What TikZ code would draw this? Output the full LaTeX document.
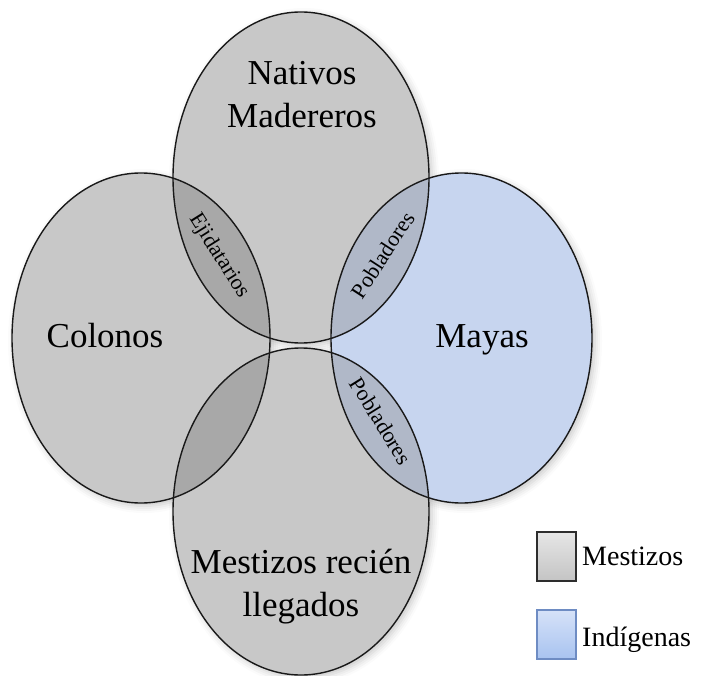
\documentclass[tikz,border=0pt]{standalone}
\usepackage{fontspec}
\setmainfont{Liberation Serif}
\usetikzlibrary{shadows.blur}
\definecolor{mgray}{RGB}{200,200,200}
\definecolor{movl}{RGB}{168,168,168}
\definecolor{mblue}{RGB}{199,213,239}
\definecolor{movb}{RGB}{176,184,200}
\definecolor{lnc}{RGB}{25,25,25}
\definecolor{lgtop}{RGB}{230,230,230}
\definecolor{lgbot}{RGB}{196,196,196}
\definecolor{lgbord}{RGB}{45,45,45}
\definecolor{lbtop}{RGB}{214,226,248}
\definecolor{lbbot}{RGB}{168,195,240}
\definecolor{lbbord}{RGB}{110,140,195}
\begin{document}
\begin{tikzpicture}[x=1pt,y=-1pt,
  outl/.style={draw=lnc,line width=1.4pt},
  shad/.style={blur shadow={shadow xshift=3pt,shadow yshift=-3pt,shadow blur radius=7pt,shadow opacity=22}},
  big/.style={font=\fontsize{35}{43}\selectfont,align=center,inner sep=0pt},
  small/.style={font=\fontsize{22}{24}\selectfont,inner sep=0pt},
  leg/.style={font=\fontsize{28}{30}\selectfont,inner sep=0pt,anchor=base west},
  legbox/.style={minimum width=39pt,minimum height=49pt,inner sep=0pt,line width=1.4pt}]
\useasboundingbox (0,0) rectangle (703,676);
\def\ellT{(301,177.5) ellipse [x radius=128, y radius=165.5]}
\def\ellB{(301,511.5) ellipse [x radius=128, y radius=163.5]}
\def\ellL{(141,338) ellipse [x radius=129, y radius=165]}
\def\ellR{(461.5,338) ellipse [x radius=130.5, y radius=165]}
% shadows
\path[shad] \ellT;
\path[shad] \ellB;
\path[shad] \ellL;
\path[shad] \ellR;
% base fills
\fill[mgray] \ellT;
\fill[mgray] \ellB;
\fill[mgray] \ellL;
\fill[mblue] \ellR;
% overlaps
\begin{scope}\clip \ellT; \fill[movl] \ellL; \end{scope}
\begin{scope}\clip \ellB; \fill[movl] \ellL; \end{scope}
\begin{scope}\clip \ellT; \fill[movb] \ellR; \end{scope}
\begin{scope}\clip \ellB; \fill[movb] \ellR; \end{scope}
% outlines
\draw[outl] \ellT;
\draw[outl] \ellB;
\draw[outl] \ellL;
\draw[outl] \ellR;
% labels
\node[big] (nat) at (302,95) {Nativos\\Madereros};
\node[big,anchor=base] (col) at (105,347) {Colonos};
\node[big,anchor=base] (may) at (482,347) {Mayas};
\node[big] (mes) at (301,587) {Mestizos recién\\llegados};
\node[small,rotate=-58] (eji) at (219,256) {Ejidatarios};
\node[small,rotate=57] (pob1) at (383,255) {Pobladores};
\node[small,rotate=-58] (pob2) at (381,421) {Pobladores};
% legend
\node[legbox,draw=lgbord,top color=lgtop,bottom color=lgbot] (lg1) at (556.5,556.5) {};
\node[legbox,draw=lbbord,top color=lbtop,bottom color=lbbot] (lg2) at (556.5,634.5) {};
\node[leg] (lt1) at (582,565) {Mestizos};
\node[leg] (lt2) at (582,646) {Indígenas};
\end{tikzpicture}
\end{document}
